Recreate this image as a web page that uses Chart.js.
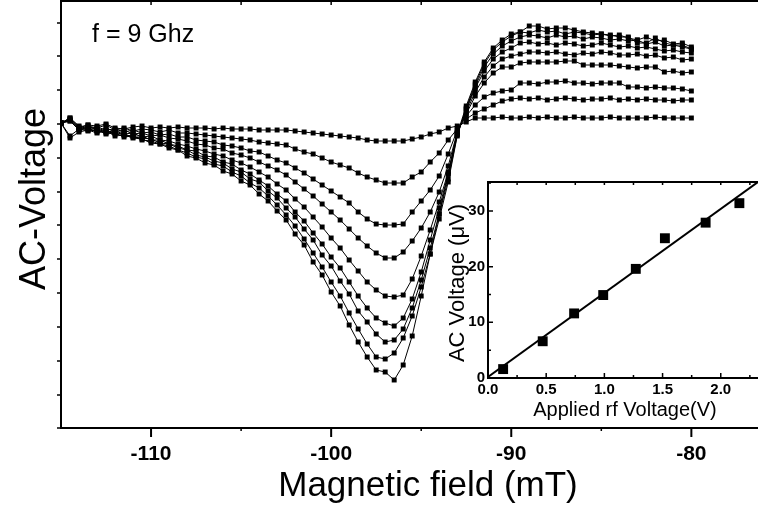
<!DOCTYPE html>
<html><head><meta charset="utf-8">
<script src="https://cdn.jsdelivr.net/npm/chart.js@4"></script>
<style>
html,body{margin:0;padding:0;background:#fff;}
#wrap{position:relative;width:758px;height:511px;overflow:hidden;background:#fff;}
#main{position:absolute;left:0;top:0;}
#inset{position:absolute;left:420px;top:170px;}
</style></head><body>
<div id="wrap">
<canvas id="main" width="758" height="511"></canvas>
<canvas id="inset" width="338" height="260"></canvas>
</div>
<script>
// ---------- main panel data (magnetic field sweep, AC voltage in arbitrary units) ----------
const field = [-115,-114.5,-114,-113.5,-113,-112.5,-112,-111.5,-111,-110.5,-110,-109.5,-109,-108.5,-108,-107.5,-107,-106.5,-106,-105.5,-105,-104.5,-104,-103.5,-103,-102.5,-102,-101.5,-101,-100.5,-100,-99.5,-99,-98.5,-98,-97.5,-97,-96.5,-96,-95.5,-95,-94.5,-94,-93.5,-93,-92.5,-92,-91.5,-91,-90.5,-90,-89.5,-89,-88.5,-88,-87.5,-87,-86.5,-86,-85.5,-85,-84.5,-84,-83.5,-83,-82.5,-82,-81.5,-81,-80.5,-80];

const curve1 = [1,5,-3,-1,-2,0,-4,-5,-3,-2, -4,-3,-4,-3,-4,-4,-4,-5,-4,-5, -5,-5,-6,-6,-6,-6,-7,-8,-9,-10, -11,-12,-13,-14,-16,-17,-17,-17,-17,-15, -13,-10,-8,-4,-2,2,6,6,6,7, 6,6,7,6,7,6,6,7,6,6, 6,7,6,6,6,6,7,6,6,6,6];
const curve2 = [1,3,-5,-2,-4,-1,-6,-4,-7,-5, -6,-8,-6,-9,-9,-10,-11,-12,-13,-14, -15,-16,-18,-19,-20,-21,-25,-28,-30,-34, -38,-41,-44,-49,-53,-56,-59,-59,-59,-53, -48,-38,-29,-16,-5,5,11,15,19,23, 25,26,25,26,24,25,26,25,24,25, 25,26,24,25,24,25,24,24,23,24,24];
const curve3 = [1,6,-2,-5,-3,-6,-5,-8,-6,-9, -8,-11,-10,-13,-13,-16,-17,-18,-21,-22, -24,-27,-28,-32,-36,-39,-44,-49,-55,-61, -67,-73,-79,-88,-95,-100,-101,-101,-100,-88, -77,-66,-52,-30,-6,8,19,27,31,33, 34,41,41,40,42,42,43,41,41,40, 41,41,41,37,37,36,37,36,36,35,33];
const curve4 = [1,4,-4,-1,-7,-4,-8,-6,-10,-9, -12,-11,-14,-15,-17,-20,-21,-24,-25,-29, -31,-34,-38,-42,-46,-51,-58,-65,-72,-80, -88,-96,-105,-114,-122,-129,-134,-134,-128,-117, -104,-88,-68,-42,-8,10,28,41,51,57, 57,61,62,62,62,62,63,63,59,59, 59,59,58,57,56,57,57,52,53,51,52];
const curve5 = [1,3,-6,-3,-5,-8,-7,-10,-9,-13, -12,-16,-17,-20,-22,-25,-27,-30,-32,-36, -39,-43,-48,-53,-60,-66,-75,-83,-93,-103, -114,-124,-136,-147,-158,-166,-172,-173,-171,-155, -132,-106,-78,-48,-9,12,32,47,58,65, 68,70,72,72,71,72,70,69,71,70, 72,71,69,69,70,68,69,66,67,64,65];
const curve6 = [1,6,-4,-6,-6,-9,-8,-11,-12,-12, -16,-16,-20,-22,-26,-27,-32,-33,-38,-40, -46,-50,-56,-62,-70,-77,-88,-97,-109,-120, -133,-144,-158,-172,-184,-194,-199,-202,-194,-175, -148,-116,-84,-50,-10,14,36,53,65,72, 76,81,82,80,81,79,81,80,78,79, 81,79,77,78,76,77,75,73,74,72,71];
const curve7 = [1,4,-6,-4,-8,-6,-10,-10,-13,-14, -15,-19,-20,-24,-26,-31,-33,-37,-39,-45, -48,-55,-58,-67,-74,-84,-93,-105,-116,-131, -142,-157,-170,-187,-198,-210,-218,-216,-205,-184, -156,-124,-90,-55,-11,15,38,57,70,78, 83,87,89,88,86,89,87,88,85,87, 86,84,85,83,84,80,82,78,79,77,75];
const curve8 = [1,-12,-5,-7,-6,-10,-9,-13,-12,-16, -17,-20,-22,-26,-29,-33,-35,-40,-42,-48, -52,-59,-64,-72,-81,-91,-102,-115,-129,-143, -158,-172,-189,-205,-220,-233,-235,-229,-214,-192, -163,-130,-95,-58,-12,16,40,60,74,82, 88,92,91,94,92,93,90,92,91,89, 90,88,89,86,84,87,83,84,80,81,77];
const curve9 = [1,-14,-8,-6,-9,-7,-12,-11,-14,-15, -19,-20,-24,-26,-32,-34,-39,-41,-47,-50, -57,-61,-70,-77,-87,-96,-110,-121,-138,-151, -168,-182,-201,-218,-233,-246,-248,-256,-241,-212, -172,-130,-90,-50,-10,18,42,62,76,84, 90,92,98,98,95,96,96,94,92,91, 90,89,87,87,81,81,86,81,79,79,75];
const curves = [curve1,curve2,curve3,curve4,curve5,curve6,curve7,curve8,curve9];

const xMajorTicks = [-110,-100,-90,-80];
const xMinorTicks = [-105,-95,-85];
const xTopTicks = [-110,-105,-100,-95,-90,-85,-80];
const yTickVals = [-304,-271,-237,-203,-169,-135,-101,-68,-34,0,34,68,101];

// ---------- inset data ----------
const rfVoltage = [0.13,0.47,0.74,0.99,1.27,1.52,1.87,2.16];
const acVoltage = [1.6,6.6,11.6,14.9,19.6,25.1,27.9,31.4];
const fitX = [0,2.32];
const fitY = [0.2,35.2];
const insetXTicks = [0,0.5,1,1.5,2];
const insetXMinor = [0.25,0.75,1.25,1.75,2.25];
const insetYTicks = [0,10,20,30];
const insetYMinor = [5,15,25,35];

const FONT = "'Liberation Sans', Arial, Helvetica, sans-serif";

function marks(ctx, scale, vals, fixed, len, horizontal, lw){
  ctx.save(); ctx.strokeStyle='#000'; ctx.lineWidth=lw||1.5; ctx.beginPath();
  for(const v of vals){
    const p = scale.getPixelForValue(v);
    if(horizontal){ ctx.moveTo(p, fixed); ctx.lineTo(p, fixed+len); }
    else { ctx.moveTo(fixed, p); ctx.lineTo(fixed+len, p); }
  }
  ctx.stroke(); ctx.restore();
}
function text(ctx, str, x, y, size, opts){
  opts = opts||{};
  ctx.save(); ctx.fillStyle='#000';
  ctx.font = (opts.bold?'bold ':'') + size + 'px ' + FONT;
  ctx.textAlign = opts.align||'center'; ctx.textBaseline='middle';
  ctx.translate(x,y); if(opts.rot) ctx.rotate(opts.rot);
  ctx.fillText(str,0,0); ctx.restore();
}

const mainDeco = {
  id:'mainDeco',
  afterDraw(chart){
    const ctx = chart.ctx, a = chart.chartArea, xs = chart.scales.x, ys = chart.scales.y;
    ctx.save(); ctx.strokeStyle='#000'; ctx.lineWidth=2;
    ctx.beginPath(); ctx.moveTo(a.left-1, a.top); ctx.lineTo(a.right, a.top); ctx.stroke(); ctx.restore();
    marks(ctx, xs, xMajorTicks, a.bottom, 9, true, 2);
    marks(ctx, xs, xMinorTicks, a.bottom, 3, true, 1.5);
    marks(ctx, xs, xTopTicks, a.top, 4, true, 1.5);
    marks(ctx, ys, yTickVals, a.left, -4, false, 1.5);
    text(ctx, 'f = 9 Ghz', 92, 35, 25, {align:'left'});
    text(ctx, 'AC-Voltage', 35, 199, 36, {rot:-Math.PI/2});
    text(ctx, 'Magnetic field (mT)', 428, 486, 35);
  }
};

new Chart(document.getElementById('main'), {
  type:'line',
  data:{ datasets: curves.map(c => ({
    data: field.map((x,i)=>({x:x, y:c[i]})),
    borderColor:'#000', borderWidth:1, tension:0,
    pointStyle:'rect', pointRadius:3.5, pointBackgroundColor:'#000', pointBorderWidth:0,
    fill:false
  }))},
  options:{
    responsive:false, animation:false, events:[],
    layout:{autoPadding:false, padding:{top:1,left:0,right:0,bottom:0}},
    plugins:{legend:{display:false}, tooltip:{enabled:false}},
    scales:{
      x:{ type:'linear', min:-115, max:-76.3,
          afterBuildTicks: s => { s.ticks = xMajorTicks.map(v=>({value:v})); },
          afterFit: s => { s.height = 83; },
          grid:{display:false, drawTicks:false, tickLength:0}, border:{display:true, color:'#000', width:2},
          ticks:{ color:'#000', font:{family:FONT, size:21, weight:'bold'}, padding:14, maxRotation:0, autoSkip:false,
                  callback: v => String(v) } },
      y:{ type:'linear', min:-304, max:123,
          afterBuildTicks: s => { s.ticks = yTickVals.map(v=>({value:v})); },
          afterFit: s => { s.width = 61; },
          grid:{display:false, drawTicks:false, tickLength:0}, border:{display:true, color:'#000', width:2},
          ticks:{display:false} }
    }
  },
  plugins:[mainDeco]
});

const insetDeco = {
  id:'insetDeco',
  beforeDraw(chart){
    const ctx = chart.ctx, a = chart.chartArea;
    ctx.save(); ctx.fillStyle='#fff'; ctx.fillRect(a.left, a.top, a.right-a.left, a.bottom-a.top); ctx.restore();
  },
  afterDraw(chart){
    const ctx = chart.ctx, a = chart.chartArea, xs = chart.scales.x, ys = chart.scales.y;
    ctx.save(); ctx.strokeStyle='#000'; ctx.lineWidth=2;
    ctx.beginPath(); ctx.moveTo(a.left-1, a.top); ctx.lineTo(a.right, a.top); ctx.stroke(); ctx.restore();
    marks(ctx, xs, insetXTicks, a.bottom, -5, true, 1.5);
    marks(ctx, xs, insetXMinor, a.bottom, -3, true, 1.5);
    marks(ctx, xs, insetXTicks.concat(insetXMinor), a.top, 3, true, 1.5);
    marks(ctx, ys, insetYTicks, a.left, 5, false, 1.5);
    marks(ctx, ys, insetYMinor, a.left, 3, false, 1.5);
    text(ctx, 'AC Voltage (\u03BCV)', 38, 113, 22, {rot:-Math.PI/2});
    text(ctx, 'Applied rf Voltage(V)', 205, 240, 20);
  }
};

new Chart(document.getElementById('inset'), {
  type:'scatter',
  data:{ datasets:[
    { data: fitX.map((x,i)=>({x:x, y:fitY[i]})), showLine:true, borderColor:'#000', borderWidth:2,
      pointRadius:0, tension:0 },
    { data: rfVoltage.map((x,i)=>({x:x, y:acVoltage[i]})), showLine:false,
      pointStyle:'rect', pointRadius:7, pointBackgroundColor:'#000', pointBorderWidth:0 }
  ]},
  options:{
    responsive:false, animation:false, events:[],
    layout:{autoPadding:false, padding:{top:10,left:0,right:0,bottom:0}},
    plugins:{legend:{display:false}, tooltip:{enabled:false}},
    scales:{
      x:{ type:'linear', min:0, max:2.32,
          afterBuildTicks: s => { s.ticks = insetXTicks.map(v=>({value:v})); },
          afterFit: s => { s.height = 52; },
          grid:{display:false, drawTicks:false, tickLength:0}, border:{display:true, color:'#000', width:2},
          ticks:{ color:'#000', font:{family:FONT, size:15, weight:'bold'}, padding:3, maxRotation:0, autoSkip:false,
                  callback: v => Number(v).toFixed(1) } },
      y:{ type:'linear', min:0, max:35.2,
          afterBuildTicks: s => { s.ticks = insetYTicks.map(v=>({value:v})); },
          afterFit: s => { s.width = 68; },
          grid:{display:false, drawTicks:false, tickLength:0}, border:{display:true, color:'#000', width:2},
          ticks:{ color:'#000', font:{family:FONT, size:15, weight:'bold'}, padding:3,
                  callback: v => String(v) } }
    }
  },
  plugins:[insetDeco]
});
</script>
</body></html>
